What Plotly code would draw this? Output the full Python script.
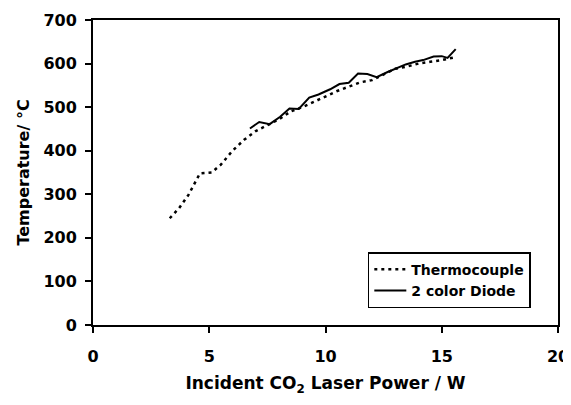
import plotly.graph_objects as go

# Thermocouple (dotted)
tc_power = [3.3, 3.7, 4.1, 4.6, 5.1, 5.5, 6.0, 6.5, 7.0, 7.5, 8.0, 8.5, 9.0, 9.5,
            10.0, 10.5, 11.0, 11.5, 12.0, 12.5, 13.0, 13.5, 14.0, 14.5, 15.0, 15.6]
tc_temp = [245, 268, 298, 348, 350, 368, 400, 425, 445, 458, 472, 490, 500, 512,
           525, 537, 547, 557, 562, 575, 588, 593, 600, 604, 608, 615]

# 2 color diode (solid)
diode_power = [6.75, 7.15, 7.6, 8.05, 8.45, 8.85, 9.3, 9.7, 10.2, 10.6, 11.0, 11.4,
               11.8, 12.2, 12.65, 13.1, 13.45, 13.85, 14.2, 14.65, 15.0, 15.25, 15.6]
diode_temp = [451, 466, 461, 478, 497, 496, 522, 529, 541, 553, 556, 577,
              576, 569, 580, 591, 598, 604, 608, 616, 617, 613, 633]

x_ticks = [0, 5, 10, 15, 20]
y_ticks = [0, 100, 200, 300, 400, 500, 600, 700]

FONT = "DejaVu Sans, sans-serif"

fig = go.Figure()
fig.add_trace(go.Scatter(x=tc_power, y=tc_temp, mode="lines", name="Thermocouple",
                         line=dict(color="black", width=2.5, dash="3px,4px")))
fig.add_trace(go.Scatter(x=diode_power, y=diode_temp, mode="lines", name="2 color Diode",
                         line=dict(color="black", width=2)))

axis_common = dict(showline=True, linecolor="black", linewidth=2, mirror=True,
                   ticks="outside", ticklen=6, tickwidth=1.5, tickcolor="black",
                   showgrid=False, zeroline=False, automargin=False,
                   tickfont=dict(family=FONT, size=16, color="black", weight="bold"))

fig.update_xaxes(range=[0, 20], tickvals=x_ticks, ticktext=[str(v) for v in x_ticks],
                 ticklabelstandoff=10,
                 title=dict(text="Incident CO<sub>2</sub> Laser Power / W",
                            font=dict(family=FONT, size=17, color="black", weight="bold"),
                            standoff=12),
                 **axis_common)
fig.update_yaxes(range=[0, 700], tickvals=y_ticks, ticktext=[str(v) for v in y_ticks],
                 ticklabelstandoff=5,
                 title=dict(text="Temperature/ °C",
                            font=dict(family=FONT, size=16, color="black", weight="bold"),
                            standoff=10),
                 **axis_common)

fig.update_layout(
    width=563, height=397,
    margin=dict(l=85, r=13, t=12, b=80),
    paper_bgcolor="white", plot_bgcolor="white",
    showlegend=True,
    legend=dict(x=0.591, y=0.239, xanchor="left", yanchor="top",
                bordercolor="black", borderwidth=1.5, bgcolor="white",
                font=dict(family=FONT, size=14, color="black", weight="bold"),
                tracegroupgap=0, itemwidth=32),
)

fig.write_html("out.html")
